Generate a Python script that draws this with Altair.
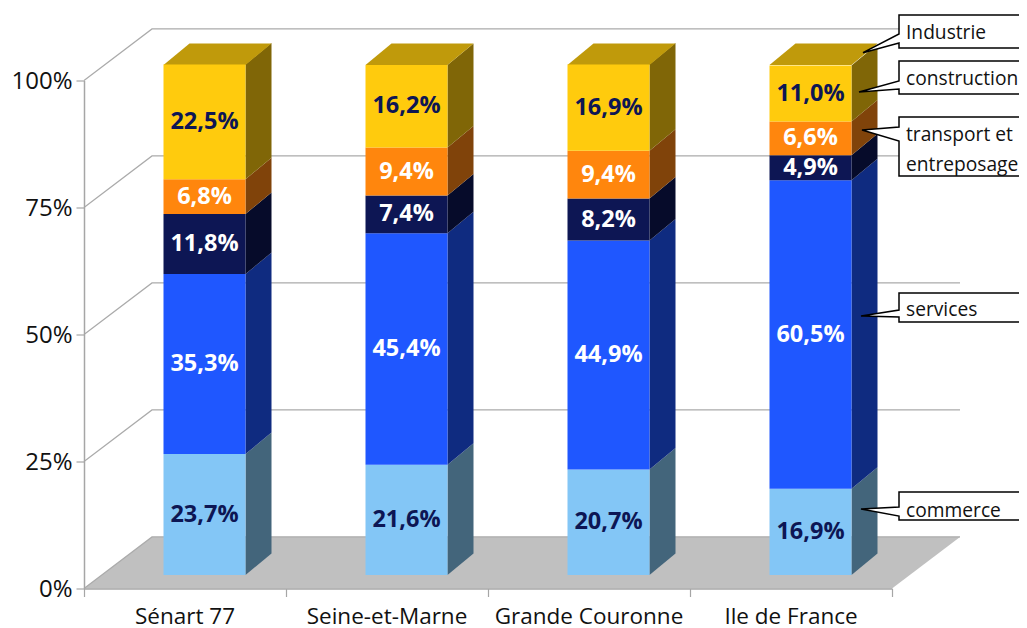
import altair as alt
import pandas as pd

# ---- data ----
regions = ["Sénart 77", "Seine-et-Marne", "Grande Couronne", "Ile de France"]
sectors = ["commerce", "services", "transport et entreposage", "construction", "Industrie"]
commerce = [23.7, 21.6, 20.7, 16.9]
services = [35.3, 45.4, 44.9, 60.5]
transport = [11.8, 7.4, 8.2, 4.9]
construction = [6.8, 9.4, 9.4, 6.6]
industrie = [22.5, 16.2, 16.9, 11.0]
series = [commerce, services, transport, construction, industrie]
front_colors = ["#83C6F6", "#1F57FF", "#0D1654", "#FF860D", "#FFCB0D"]
side_colors = ["#43657B", "#0F2B80", "#060B2A", "#80430A", "#806607"]
label_colors = ["#0D1654", "#FFFFFF", "#FFFFFF", "#FFFFFF", "#0D1654"]
top_color = "#C09A0B"

# ---- layout in pixels of the picture ----
PX0, PX_CAT, PY0, PY_PCT = 84.0, 202.0, 588.5, 5.08
W, H = 808, 508
FONT = "Open Sans"
FS = 22


def ux(px):
    return (px - PX0) / PX_CAT


def uy(py):
    return (PY0 - py) / PY_PCT


xs = alt.Scale(domain=[0, 4], nice=False, zero=False)
ys = alt.Scale(domain=[0, 100], nice=False, zero=False)

axis_style = dict(domainColor="#A6A6A6", tickColor="#A6A6A6", domainWidth=1.5, tickWidth=1.2,
                  tickSize=8, grid=False, title=None, labelFont=FONT, labelColor="#111111", zindex=1)
X_AXIS = alt.Axis(values=[0, 1, 2, 3, 4], labels=False, **axis_style)
Y_AXIS = alt.Axis(values=[0, 25, 50, 75, 100], labelExpr="datum.value + '%'",
                  labelFontSize=FS + 2, labelPadding=4, labelOffset=1, **axis_style)


def X(f="x"):
    return alt.X(f"{f}:Q", scale=xs, axis=X_AXIS)


def Y(f="y"):
    return alt.Y(f"{f}:Q", scale=ys, axis=Y_AXIS)


WALL_DX, WALL_DY = ux(PX0 + 68), 10.15
BAR_OFF, BAR_W = 19.5 / PX_CAT, 82 / PX_CAT
BAR_BASE, BAR_K = 2.66, 1.0039
SIDE_DX, SIDE_DY = 26 / PX_CAT, 21.5 / PY_PCT

layers = []

# floor
floor = pd.DataFrame({"y": [0, WALL_DY], "x": [0, WALL_DX], "x2": [4, 4 + WALL_DX]})
layers.append(alt.Chart(floor).mark_area(color="#C0C0C0", orient="horizontal", line=False).encode(
    x=X(), x2="x2:Q", y=Y()))

# wall lines
rows = []
for level in [0, 25, 50, 75, 100]:
    rows += [dict(l=level, x=0, y=level, o=0),
             dict(l=level, x=WALL_DX, y=level + WALL_DY, o=1),
             dict(l=level, x=4 + WALL_DX, y=level + WALL_DY, o=2)]
layers.append(alt.Chart(pd.DataFrame(rows)).mark_line(color="#ABABAB", strokeWidth=1.2).encode(
    x=X(), y=Y(), detail="l:N", order="o:Q"))

# bars
fronts, sides, tops, texts = [], [], [], []
for i, region in enumerate(regions):
    x0 = i + 0.5 + BAR_OFF - BAR_W / 2
    x1 = x0 + BAR_W
    base = 0.0
    for s, vals in enumerate(series):
        v = vals[i]
        lo = BAR_BASE + BAR_K * base
        hi = BAR_BASE + BAR_K * (base + v)
        fronts.append(dict(x=x0, x2=x1, y=lo, y2=hi, c=front_colors[s]))
        sides += [dict(k=f"{i}-{s}", x=x1, y=lo, y2=hi, c=side_colors[s]),
                  dict(k=f"{i}-{s}", x=x1 + SIDE_DX, y=lo + SIDE_DY, y2=hi + SIDE_DY, c=side_colors[s])]
        texts.append(dict(x=(x0 + x1) / 2, y=(lo + hi) / 2, t=f"{v:.1f}%".replace(".", ","), c=label_colors[s]))
        base += v
    top = BAR_BASE + BAR_K * 100
    tops += [dict(k=i, y=top, x=x0, x2=x1), dict(k=i, y=top + SIDE_DY, x=x0 + SIDE_DX, x2=x1 + SIDE_DX)]

layers.append(alt.Chart(pd.DataFrame(sides)).mark_area(line=False).encode(
    x=X(), y=Y(), y2="y2:Q", detail="k:N", color=alt.Color("c:N", scale=None)))
layers.append(alt.Chart(pd.DataFrame(tops)).mark_area(color=top_color, orient="horizontal", line=False).encode(
    x=X(), x2="x2:Q", y=Y(), detail="k:N"))
layers.append(alt.Chart(pd.DataFrame(fronts)).mark_rect().encode(
    x=X(), x2="x2:Q", y=Y(), y2="y2:Q", color=alt.Color("c:N", scale=None)))
layers.append(alt.Chart(pd.DataFrame(texts)).mark_text(font=FONT, fontSize=FS + 1.5, fontWeight="bold").encode(
    x=X(), y=Y(), text="t:N", color=alt.Color("c:N", scale=None)))

# category labels
cats = pd.DataFrame({"x": [i + 0.5 for i in range(4)], "y": [0.0] * 4, "t": regions})
layers.append(alt.Chart(cats).mark_text(font=FONT, fontSize=FS + 0.5, color="#111111", dy=28.5).encode(
    x=X(), y=Y(), text="t:N"))

# call-outs: (box top, box bottom, tip x, tip y, join upper, join lower)
BOX_L, BOX_R = 899, 1030
callouts = [
    (15, 48, 863, 52.7, 34, 43),
    (61, 94, 859, 92, 81, 89),
    (117, 176, 862, 130, 127, 141),
    (293, 322, 861, 316, 310, 317),
    (492, 520, 861, 509, 507, 516),
]
callout_text = [
    ("Industrie", 33), ("construction", 79), ("transport et", 135),
    ("entreposage", 165), ("services", 310), ("commerce", 511),
]
boxes, tris, paths = [], [], []
for n, (bt, bb, tx, ty, ju, jl) in enumerate(callouts):
    boxes.append(dict(x=ux(BOX_L), x2=ux(BOX_R), y=uy(bt), y2=uy(bb)))
    tris += [dict(k=n, x=ux(tx), y=uy(ty), y2=uy(ty)), dict(k=n, x=ux(BOX_L + 1), y=uy(ju), y2=uy(jl))]
    pts = [(BOX_R, bt), (BOX_L, bt), (BOX_L, ju), (tx, ty), (BOX_L, jl), (BOX_L, bb), (BOX_R, bb)]
    paths += [dict(k=n, o=j, x=ux(a), y=uy(b)) for j, (a, b) in enumerate(pts)]

layers.append(alt.Chart(pd.DataFrame(boxes)).mark_rect(color="white").encode(
    x=X(), x2="x2:Q", y=Y(), y2="y2:Q"))
layers.append(alt.Chart(pd.DataFrame(tris)).mark_area(color="white", line=False).encode(
    x=X(), y=Y(), y2="y2:Q", detail="k:N"))
layers.append(alt.Chart(pd.DataFrame(paths)).mark_line(color="black", strokeWidth=1.5).encode(
    x=X(), y=Y(), detail="k:N", order="o:Q"))
ct = pd.DataFrame({"x": [ux(906)] * len(callout_text), "y": [uy(p) for _, p in callout_text],
                   "t": [t for t, _ in callout_text]})
layers.append(alt.Chart(ct).mark_text(font=FONT, fontSize=19.2, align="left", color="#111111").encode(
    x=X(), y=Y(), text="t:N"))

chart = alt.layer(*layers).properties(
    width=W, height=H,
    autosize=alt.AutoSizeParams(type="none"),
    padding={"left": 76, "top": 72.5, "right": 127, "bottom": 39.5},
    background="white",
).configure_view(stroke=None)

chart.save("out.html", embed_options={"renderer": "svg", "actions": False})
